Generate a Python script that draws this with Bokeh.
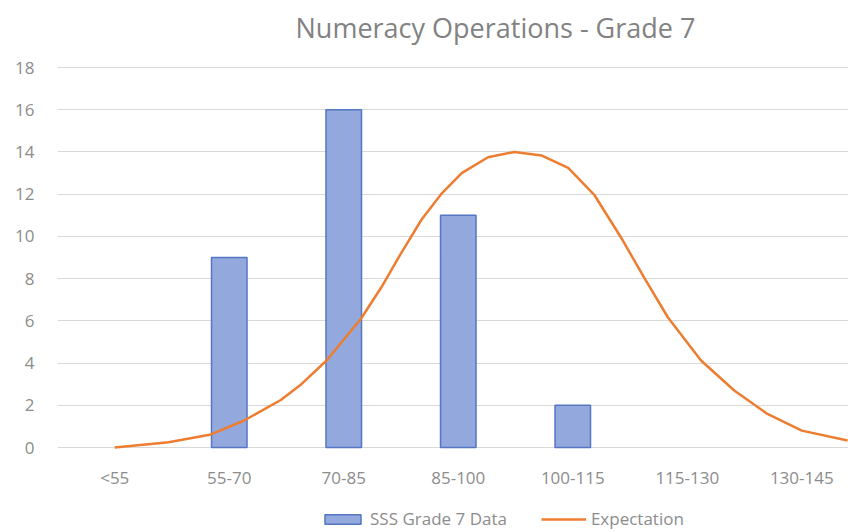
from bokeh.plotting import figure
from bokeh.models import Range1d, FixedTicker, ColumnDataSource, Legend, LegendItem
from bokeh.embed import file_html
from bokeh.resources import INLINE

# ---- data ----
categories = ["<55", "55-70", "70-85", "85-100", "100-115", "115-130", "130-145"]
sss_counts = [0, 9, 16, 11, 2, 0, 0]

# Expectation curve, read at positions along the category axis (0 = "<55")
expect_x = [0.0, 0.47, 0.84, 1.13, 1.45, 1.63, 1.85, 2.15, 2.33, 2.5, 2.68, 2.85, 3.03,
            3.26, 3.49, 3.73, 3.96, 4.19, 4.42, 4.63, 4.83, 5.12, 5.41, 5.7, 6.0, 6.4]
expect_y = [0.0, 0.25, 0.62, 1.28, 2.25, 3.0, 4.12, 6.1, 7.6, 9.2, 10.8, 12.0, 13.0,
            13.75, 14.0, 13.83, 13.25, 11.95, 9.96, 7.99, 6.17, 4.12, 2.7, 1.59, 0.8, 0.33]

y_ticks = [0, 2, 4, 6, 8, 10, 12, 14, 16, 18]
title_text = "Numeracy Operations - Grade 7"

FONT = "Open Sans"
GRAY = "#8c8c8c"

W, H = 848, 532
TOP = 48            # frame top; blank headroom above 18
Y0_PX, Y18_PX = 447, 67
PX_PER_UNIT = (Y0_PX - Y18_PX) / 18.0

p = figure(width=W, height=H, output_backend="svg", toolbar_location=None,
           x_range=Range1d(-0.5, 6.408),
           y_range=Range1d(-(H - Y0_PX) / PX_PER_UNIT, 18 + (Y18_PX - TOP) / PX_PER_UNIT),
           min_border_left=57, min_border_right=0, min_border_top=TOP,
           min_border_bottom=0)
p.outline_line_color = None
p.background_fill_color = "white"
p.border_fill_color = "white"

# title
p.title.text = title_text
p.title.align = "left"
p.title.offset = 238
p.title.text_font = FONT
p.title.text_font_size = "27px"
p.title.text_font_style = "normal"
p.title.text_color = "#828282"
p.title.standoff = 6

# bars (only non-zero counts are visible)
bx = [i for i, v in enumerate(sss_counts) if v > 0]
bv = [v for v in sss_counts if v > 0]
bar_src = ColumnDataSource(dict(x=bx, top=bv))
bars = p.vbar(x="x", top="top", bottom=0, width=0.31, source=bar_src,
              fill_color="#93a8dc", line_color="#5576c2", line_width=1.5)

line_src = ColumnDataSource(dict(x=expect_x, y=expect_y))
ln = p.line(x="x", y="y", source=line_src, line_color="#ed7d31", line_width=2.5,
            line_join="round")

# axes
p.xaxis.fixed_location = 0
p.xaxis.ticker = FixedTicker(ticks=list(range(len(categories))))
p.xaxis.major_label_overrides = {i: c for i, c in enumerate(categories)}
p.xaxis.axis_line_color = None
p.xaxis.major_tick_line_color = None
p.xaxis.minor_tick_line_color = None
p.xaxis.major_label_text_font = FONT
p.xaxis.major_label_text_font_size = "17px"
p.xaxis.major_label_text_color = GRAY
p.xaxis.major_label_standoff = 12

p.yaxis.ticker = FixedTicker(ticks=y_ticks)
p.yaxis.axis_line_color = None
p.yaxis.major_tick_line_color = None
p.yaxis.minor_tick_line_color = None
p.yaxis.major_label_text_font = FONT
p.yaxis.major_label_text_font_size = "17px"
p.yaxis.major_label_text_color = GRAY
p.yaxis.major_label_standoff = 17

p.xgrid.grid_line_color = None
p.ygrid.grid_line_color = "#d9d9d9"
p.ygrid.grid_line_width = 1.2

legend = Legend(items=[LegendItem(label="SSS Grade 7 Data", renderers=[bars]),
                       LegendItem(label="Expectation", renderers=[ln])],
                orientation="horizontal", location=(263, 2),
                glyph_width=45, glyph_height=12, label_standoff=5, spacing=34,
                padding=0, margin=0, border_line_color=None,
                background_fill_alpha=0, label_text_font=FONT,
                label_text_font_size="17px", label_text_color=GRAY,
                label_height=17)
p.add_layout(legend, "center")

open("out.html", "w").write(file_html(p, INLINE))
